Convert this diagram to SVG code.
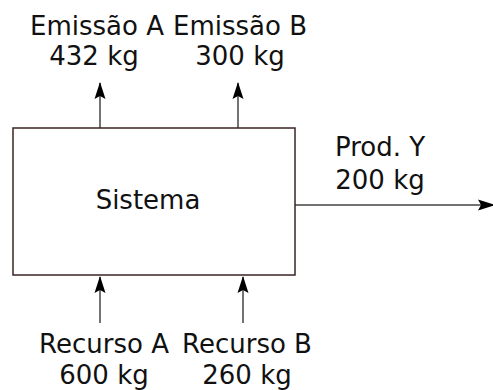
<svg xmlns="http://www.w3.org/2000/svg" width="493" height="390" viewBox="0 0 493 390">
<style>
text{font-family:"DejaVu Sans",Verdana,sans-serif;font-size:26px;fill:#111;text-anchor:middle}
.ln{stroke:#444;stroke-width:1.5;fill:none}
</style>
<defs>
<marker id="ah" markerWidth="18" markerHeight="12" viewBox="0 0 18 12" refX="16" refY="6" orient="auto" markerUnits="userSpaceOnUse">
<path d="M0,0.5 L17,6 L0,11.5 L3,6 Z" fill="#000"/>
</marker>
</defs>
<rect width="493" height="390" fill="#fff"/>
<g id="connectors">
<line class="ln" x1="100" y1="128" x2="100" y2="83" marker-end="url(#ah)"/>
<line class="ln" x1="238" y1="128" x2="238" y2="83" marker-end="url(#ah)"/>
<line class="ln" x1="100" y1="323" x2="100" y2="277" marker-end="url(#ah)"/>
<line class="ln" x1="243" y1="323" x2="243" y2="277" marker-end="url(#ah)"/>
<line class="ln" x1="295" y1="205" x2="494" y2="205" marker-end="url(#ah)"/>
</g>
<g id="sistema">
<rect x="13" y="128" width="282" height="147" fill="#fff" stroke="#3a2424" stroke-width="1.5"/>
<text x="148" y="209">Sistema</text>
</g>
<g id="emissaoA">
<text x="97" y="35">Emissão A</text>
<text x="94" y="65">432 kg</text>
</g>
<g id="emissaoB">
<text x="240" y="35">Emissão B</text>
<text x="240" y="65">300 kg</text>
</g>
<g id="prodY">
<text x="380" y="156">Prod. Y</text>
<text x="380" y="189">200 kg</text>
</g>
<g id="recursoA">
<text x="104" y="353">Recurso A</text>
<text x="104" y="384">600 kg</text>
</g>
<g id="recursoB">
<text x="247" y="353">Recurso B</text>
<text x="247" y="384">260 kg</text>
</g>
</svg>
